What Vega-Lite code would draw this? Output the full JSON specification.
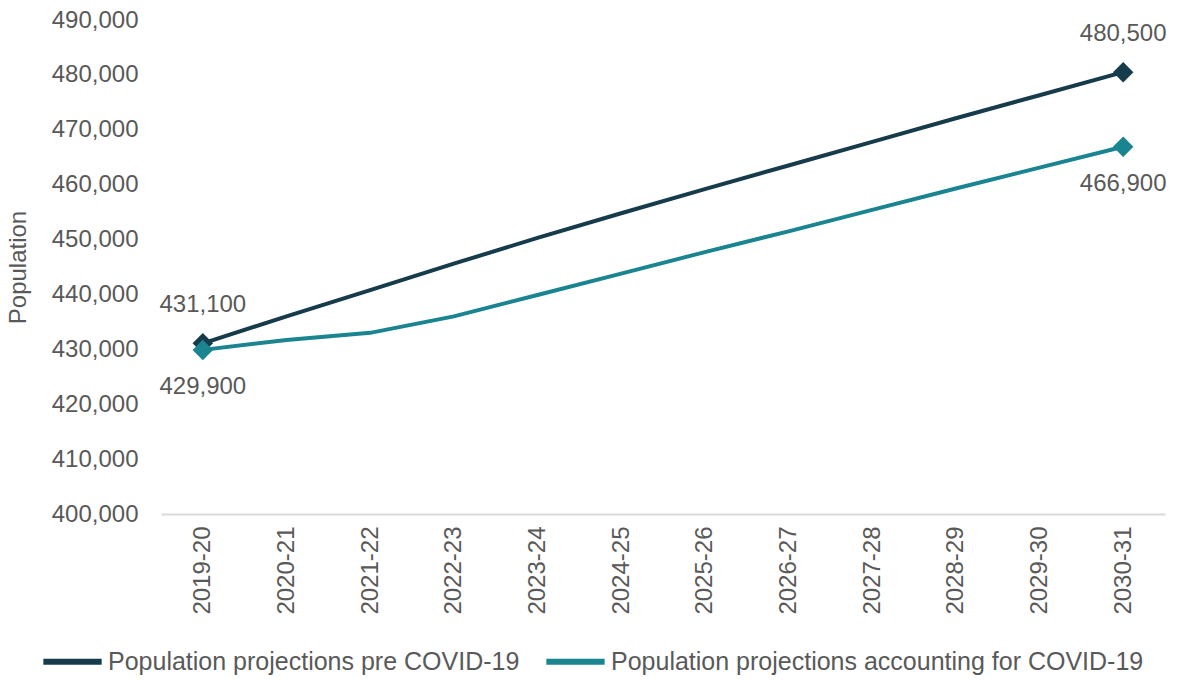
{
  "$schema": "https://vega.github.io/schema/vega-lite/v6.json",
  "width": 1004,
  "height": 494,
  "autosize": "none",
  "padding": {"left": 161, "top": 20, "right": 15, "bottom": 166},
  "background": "white",
  "config": {
    "font": "Liberation Sans",
    "view": {"stroke": null}
  },
  "data": {
    "values": [
      {"year": "2019-20", "series": "Population projections pre COVID-19", "value": 431100},
      {"year": "2020-21", "series": "Population projections pre COVID-19", "value": 436000},
      {"year": "2021-22", "series": "Population projections pre COVID-19", "value": 440800},
      {"year": "2022-23", "series": "Population projections pre COVID-19", "value": 445600},
      {"year": "2023-24", "series": "Population projections pre COVID-19", "value": 450300},
      {"year": "2024-25", "series": "Population projections pre COVID-19", "value": 454800},
      {"year": "2025-26", "series": "Population projections pre COVID-19", "value": 459200},
      {"year": "2026-27", "series": "Population projections pre COVID-19", "value": 463500},
      {"year": "2027-28", "series": "Population projections pre COVID-19", "value": 467800},
      {"year": "2028-29", "series": "Population projections pre COVID-19", "value": 472100},
      {"year": "2029-30", "series": "Population projections pre COVID-19", "value": 476300},
      {"year": "2030-31", "series": "Population projections pre COVID-19", "value": 480500},
      {"year": "2019-20", "series": "Population projections accounting for COVID-19", "value": 429900},
      {"year": "2020-21", "series": "Population projections accounting for COVID-19", "value": 431700},
      {"year": "2021-22", "series": "Population projections accounting for COVID-19", "value": 433000},
      {"year": "2022-23", "series": "Population projections accounting for COVID-19", "value": 436000},
      {"year": "2023-24", "series": "Population projections accounting for COVID-19", "value": 439900},
      {"year": "2024-25", "series": "Population projections accounting for COVID-19", "value": 443800},
      {"year": "2025-26", "series": "Population projections accounting for COVID-19", "value": 447700},
      {"year": "2026-27", "series": "Population projections accounting for COVID-19", "value": 451500},
      {"year": "2027-28", "series": "Population projections accounting for COVID-19", "value": 455400},
      {"year": "2028-29", "series": "Population projections accounting for COVID-19", "value": 459300},
      {"year": "2029-30", "series": "Population projections accounting for COVID-19", "value": 463100},
      {"year": "2030-31", "series": "Population projections accounting for COVID-19", "value": 466900}
    ]
  },
  "encoding": {
    "x": {
      "field": "year",
      "type": "ordinal",
      "scale": {"type": "point", "padding": 0.5},
      "axis": {
        "title": null,
        "labelAngle": -90,
        "labelFontSize": 24,
        "labelColor": "#595959",
        "labelPadding": 12,
        "ticks": false,
        "domainColor": "#d9d9d9",
        "domainWidth": 2,
        "grid": false
      }
    },
    "y": {
      "field": "value",
      "type": "quantitative",
      "scale": {"domain": [400000, 490000], "nice": false, "zero": false},
      "axis": {
        "title": "Population",
        "titleFontSize": 24,
        "titleFontWeight": "normal",
        "titleColor": "#595959",
        "titlePadding": 21,
        "values": [400000, 410000, 420000, 430000, 440000, 450000, 460000, 470000, 480000, 490000],
        "format": ",.0f",
        "labelFontSize": 24,
        "labelColor": "#595959",
        "labelPadding": 23,
        "ticks": false,
        "domain": false,
        "grid": false
      }
    },
    "color": {
      "field": "series",
      "type": "nominal",
      "scale": {
        "domain": ["Population projections pre COVID-19", "Population projections accounting for COVID-19"],
        "range": ["#163b4a", "#1a8591"]
      },
      "legend": {
        "title": null,
        "orient": "none",
        "direction": "horizontal",
        "legendX": -121,
        "legendY": 609,
        "symbolType": "stroke",
        "symbolSize": 3400,
        "symbolStrokeWidth": 6,
        "labelFontSize": 25,
        "labelColor": "#595959",
        "labelOffset": 3,
        "columnPadding": 14,
        "labelLimit": 700
      }
    }
  },
  "layer": [
    {
      "mark": {"type": "line", "strokeWidth": 4}
    },
    {
      "transform": [{"filter": {"field": "year", "oneOf": ["2019-20", "2030-31"]}}],
      "mark": {"type": "point", "shape": "diamond", "size": 420, "filled": true, "opacity": 1}
    },
    {
      "transform": [
        {"filter": {"field": "year", "oneOf": ["2019-20", "2030-31"]}},
        {"filter": {"field": "series", "equal": "Population projections pre COVID-19"}}
      ],
      "mark": {"type": "text", "fontSize": 24, "dy": -38, "baseline": "middle"},
      "encoding": {
        "text": {"field": "value", "type": "quantitative", "format": ",.0f"},
        "color": {"value": "#595959"}
      }
    },
    {
      "transform": [
        {"filter": {"field": "year", "oneOf": ["2019-20", "2030-31"]}},
        {"filter": {"field": "series", "equal": "Population projections accounting for COVID-19"}}
      ],
      "mark": {"type": "text", "fontSize": 24, "dy": 37, "baseline": "middle"},
      "encoding": {
        "text": {"field": "value", "type": "quantitative", "format": ",.0f"},
        "color": {"value": "#595959"}
      }
    }
  ]
}
